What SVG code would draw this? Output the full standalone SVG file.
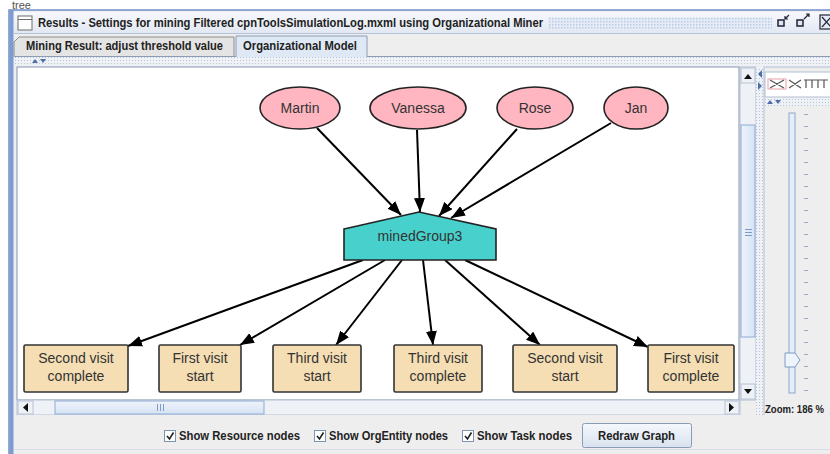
<svg xmlns="http://www.w3.org/2000/svg" width="830" height="454" viewBox="0 0 830 454">
<defs>
<style>
.lbl{font-family:"Liberation Sans",Arial,sans-serif;font-size:14px;fill:#333;text-anchor:middle}
.ui{font-family:"Liberation Sans",Arial,sans-serif;font-size:12px;font-weight:bold;fill:#222}
.res{fill:#ffb6c1;stroke:#222;stroke-width:1.6}
.task{fill:#f5deb3;stroke:#333;stroke-width:1.6}
.org{fill:#48d1cc;stroke:#222;stroke-width:1.6}
.edge{stroke:#000;stroke-width:2;fill:none;marker-end:url(#ah)}
.cb{fill:#fff;stroke:#7f93b3;stroke-width:1}
.chk{fill:none;stroke:#222;stroke-width:1.6}
.tick{stroke:#9aaac4;stroke-width:1}
</style>
<marker id="ah" markerWidth="15" markerHeight="11" refX="14" refY="5.5" orient="auto" markerUnits="userSpaceOnUse">
<path d="M0,0 L14,5.5 L0,11 z" fill="#000"/>
</marker>
<pattern id="dots" width="3" height="3" patternUnits="userSpaceOnUse">
<rect width="3" height="3" fill="#eef1f6"/>
<rect width="1" height="1" fill="#b9c3d3"/>
</pattern>
<pattern id="hatch" width="3" height="3" patternUnits="userSpaceOnUse">
<rect width="3" height="3" fill="#e6ecf6"/>
<rect width="1.5" height="1.5" fill="#bccbe4"/>
</pattern>
<linearGradient id="tb" x1="0" y1="0" x2="0" y2="1">
<stop offset="0" stop-color="#f6f8fc"/>
<stop offset="1" stop-color="#e2e8f2"/>
</linearGradient>
<linearGradient id="btn" x1="0" y1="0" x2="0" y2="1">
<stop offset="0" stop-color="#f5f8fc"/>
<stop offset="1" stop-color="#d8e2ef"/>
</linearGradient>
<linearGradient id="thumb" x1="0" y1="0" x2="1" y2="0">
<stop offset="0" stop-color="#eef3fb"/>
<stop offset="1" stop-color="#d6e3f3"/>
</linearGradient>
<linearGradient id="thumbh" x1="0" y1="0" x2="0" y2="1">
<stop offset="0" stop-color="#eef3fb"/>
<stop offset="1" stop-color="#d6e3f3"/>
</linearGradient>
</defs>

<rect width="830" height="454" fill="#fff"/>
<text x="12" y="9" style="font-family:'Liberation Sans',Arial,sans-serif;font-size:11px;fill:#555">tree</text>

<!-- window frame -->
<g id="window">
<rect x="9" y="10" width="830" height="446" fill="#eeeeee" stroke="#6f8fc6" stroke-width="1.5"/>
<rect x="9.5" y="10" width="4" height="444" fill="#7d9bd0"/>
<rect x="14" y="12" width="816" height="21" fill="url(#tb)"/>
<line x1="14" y1="33.5" x2="830" y2="33.5" stroke="#b5c3d9"/>
<rect x="18" y="16" width="14" height="14" fill="#fff" stroke="#6c6c6c"/>
<line x1="18" y1="19.5" x2="32" y2="19.5" stroke="#6c6c6c"/>
<text class="ui" x="38" y="27" textLength="505" lengthAdjust="spacingAndGlyphs">Results - Settings for mining Filtered cpnToolsSimulationLog.mxml using Organizational Miner</text>
<rect x="548" y="17" width="224" height="12" fill="url(#hatch)"/>
<rect x="778" y="20" width="6" height="6" fill="#dde6f3" stroke="#223" stroke-width="1.5"/>
<path d="M789,15 L785,19 M785,16 v3 h3" stroke="#223" stroke-width="1.2" fill="none"/>
<rect x="797" y="20" width="6" height="6" fill="#dde6f3" stroke="#223" stroke-width="1.5"/>
<path d="M804,19 L809,14 M806,14 h3 v3" stroke="#223" stroke-width="1.2" fill="none"/>
<rect x="820" y="15" width="13" height="14" fill="#e6ecf6" stroke="#223" stroke-width="1.2"/>
<path d="M822,17 L831,27 M831,17 L822,27" stroke="#223" stroke-width="1.2"/>

<!-- tabs -->
<path d="M14,56 L14,42 L19,37 L234,37 L234,56" fill="#e4e4e4" stroke="#8c8c8c"/>
<text class="ui" x="26" y="50" textLength="197" lengthAdjust="spacingAndGlyphs">Mining Result: adjust threshold value</text>
<path d="M236,57 L236,36 L367,36 L367,57" fill="#dfe9f5" stroke="#8c9cb4"/>
<text class="ui" x="243" y="50" textLength="114" lengthAdjust="spacingAndGlyphs">Organizational Model</text>
<line x1="14" y1="56.5" x2="236" y2="56.5" stroke="#8c9cb4"/>
<line x1="367" y1="56.5" x2="830" y2="56.5" stroke="#8c9cb4"/>
<rect x="14" y="57" width="816" height="9" fill="url(#dots)"/>
<path d="M32,63 L35,59 L38,63 z M40,59 L46,59 L43,63 z" fill="#4e6fa8"/>

<!-- graph pane -->
<rect x="17" y="67" width="722" height="333" fill="#fff" stroke="#8594ad"/>

<!-- vertical scrollbar -->
<rect x="740" y="67" width="16" height="333" fill="#eef2f7" stroke="#b4c0d2"/>
<rect x="741" y="68" width="14" height="15" fill="#eef1f5" stroke="#b6c2d4"/>
<path d="M744,79 L748,74 L752,79 z" fill="#111"/>
<rect x="741" y="125" width="14" height="212" fill="url(#thumb)" stroke="#8eaad2"/>
<path d="M745,229.5 h7 M745,232.5 h7 M745,235.5 h7" stroke="#7d9cc8"/>
<rect x="741" y="384" width="14" height="15" fill="#eef1f5" stroke="#b6c2d4"/>
<path d="M744,389 L752,389 L748,394 z" fill="#111"/>

<!-- horizontal scrollbar -->
<rect x="17" y="400" width="723" height="15" fill="#eef2f7" stroke="#b4c0d2"/>
<rect x="18" y="401" width="15" height="13" fill="#eef1f5" stroke="#b6c2d4"/>
<path d="M28,403 L23,407.5 L28,412 z" fill="#111"/>
<rect x="55" y="401" width="209" height="13" fill="url(#thumbh)" stroke="#8eaad2"/>
<path d="M157.5,404 v7 M160.5,404 v7 M163.5,404 v7" stroke="#7d9cc8"/>
<rect x="725" y="401" width="14" height="13" fill="#eef1f5" stroke="#b6c2d4"/>
<path d="M729,403 L734,407.5 L729,412 z" fill="#111"/>

<!-- divider -->
<rect x="756" y="67" width="8" height="350" fill="url(#dots)"/>
<path d="M762,70 L758,74 L762,78 z M758,82 L762,86 L758,90 z" fill="#4e6fa8"/>

<!-- right panel -->
<rect x="764" y="67" width="70" height="350" fill="#eeeeee" stroke="#b4c0d2"/>
<rect x="765" y="72" width="70" height="25" fill="#fff" stroke="#b4c0d2"/>
<rect x="768" y="79" width="18" height="10" fill="none" stroke="#e8a0a8"/>
<path d="M770,80 L784,88 M784,80 L770,88 M789,80 L801,88 M801,80 L789,88 M806,80 v8 M812,80 v8 M818,80 v8 M824,80 v8 M804,80 h24" stroke="#555" stroke-width="1.2"/>
<rect x="765" y="98" width="70" height="8" fill="url(#dots)"/>
<path d="M767,104 L770,100 L773,104 z M775,100 L781,100 L778,104 z" fill="#4e6fa8"/>
<rect x="789" y="113" width="6" height="280" fill="#e6edf7" stroke="#8aa6cc"/>
<g class="tick">
<path d="M804,114.5 h4 M804,126.5 h4 M804,138.5 h4 M804,150.5 h4 M804,162.5 h4 M804,174.5 h4 M804,186.5 h4 M804,198.5 h4 M804,210.5 h4 M804,222.5 h4 M804,234.5 h4 M804,246.5 h4 M804,258.5 h4 M804,270.5 h4 M804,282.5 h4 M804,294.5 h4 M804,306.5 h4 M804,318.5 h4 M804,330.5 h4 M804,342.5 h4 M804,354.5 h4 M804,366.5 h4 M804,378.5 h4 M804,390.5 h4"/>
</g>
<path d="M785,353 L795,353 L800,360 L795,367 L785,367 z" fill="#eef4fb" stroke="#7d9cc8"/>
<text class="ui" x="765" y="413" textLength="59" lengthAdjust="spacingAndGlyphs" style="font-size:11px">Zoom: 186 %</text>

<!-- bottom panel -->
<rect x="14" y="415" width="816" height="33" fill="#eeeeee"/>
<line x1="14" y1="449.5" x2="830" y2="449.5" stroke="#d6dde8"/>
<rect class="cb" x="164.5" y="430.5" width="11" height="11"/>
<path class="chk" d="M167,436 L169.5,439 L173.5,432.5"/>
<text class="ui" x="179" y="440" textLength="121" lengthAdjust="spacingAndGlyphs">Show Resource nodes</text>
<rect class="cb" x="314.5" y="430.5" width="11" height="11"/>
<path class="chk" d="M317,436 L319.5,439 L323.5,432.5"/>
<text class="ui" x="329" y="440" textLength="119" lengthAdjust="spacingAndGlyphs">Show OrgEntity nodes</text>
<rect class="cb" x="462.5" y="430.5" width="11" height="11"/>
<path class="chk" d="M465,436 L467.5,439 L471.5,432.5"/>
<text class="ui" x="477" y="440" textLength="95" lengthAdjust="spacingAndGlyphs">Show Task nodes</text>
<rect x="582.5" y="423.5" width="109" height="24" rx="2" fill="url(#btn)" stroke="#8a9bb5"/>
<text class="ui" x="598" y="440" textLength="77" lengthAdjust="spacingAndGlyphs">Redraw Graph</text>
</g>

<!-- connectors -->
<g id="connectors">
<line class="edge" x1="317" y1="128" x2="401" y2="215"/>
<line class="edge" x1="417" y1="130" x2="420" y2="212"/>
<line class="edge" x1="517" y1="129" x2="439" y2="216"/>
<line class="edge" x1="611" y1="123" x2="451" y2="218"/>
<line class="edge" x1="363" y1="260" x2="128" y2="346"/>
<line class="edge" x1="385" y1="260" x2="240" y2="345"/>
<line class="edge" x1="402" y1="260" x2="336" y2="345"/>
<line class="edge" x1="423" y1="260" x2="433" y2="345"/>
<line class="edge" x1="445" y1="260" x2="540" y2="345"/>
<line class="edge" x1="465" y1="260" x2="648" y2="347"/>
</g>

<!-- resource nodes -->
<g id="martin"><ellipse class="res" cx="300" cy="108" rx="40" ry="21"/><text class="lbl" x="300" y="113">Martin</text></g>
<g id="vanessa"><ellipse class="res" cx="418" cy="108" rx="48" ry="21"/><text class="lbl" x="418" y="113">Vanessa</text></g>
<g id="rose"><ellipse class="res" cx="535" cy="108" rx="38" ry="21"/><text class="lbl" x="535" y="113">Rose</text></g>
<g id="jan"><ellipse class="res" cx="636" cy="108" rx="32" ry="21"/><text class="lbl" x="636" y="113">Jan</text></g>

<!-- org entity -->
<g id="minedGroup3"><polygon class="org" points="344,229 419,212 496,229 496,260 344,260"/><text class="lbl" x="420" y="241">minedGroup3</text></g>

<!-- task nodes -->
<g id="task1"><rect class="task" x="24" y="345" width="104" height="47" rx="1.5"/><text class="lbl" x="76" y="363">Second visit</text><text class="lbl" x="76" y="381">complete</text></g>
<g id="task2"><rect class="task" x="159" y="345" width="82" height="47" rx="1.5"/><text class="lbl" x="200" y="363">First visit</text><text class="lbl" x="200" y="381">start</text></g>
<g id="task3"><rect class="task" x="273" y="345" width="88" height="47" rx="1.5"/><text class="lbl" x="317" y="363">Third visit</text><text class="lbl" x="317" y="381">start</text></g>
<g id="task4"><rect class="task" x="394" y="345" width="88" height="47" rx="1.5"/><text class="lbl" x="438" y="363">Third visit</text><text class="lbl" x="438" y="381">complete</text></g>
<g id="task5"><rect class="task" x="513" y="345" width="104" height="47" rx="1.5"/><text class="lbl" x="565" y="363">Second visit</text><text class="lbl" x="565" y="381">start</text></g>
<g id="task6"><rect class="task" x="648" y="345" width="86" height="47" rx="1.5"/><text class="lbl" x="691" y="363">First visit</text><text class="lbl" x="691" y="381">complete</text></g>
</svg>
